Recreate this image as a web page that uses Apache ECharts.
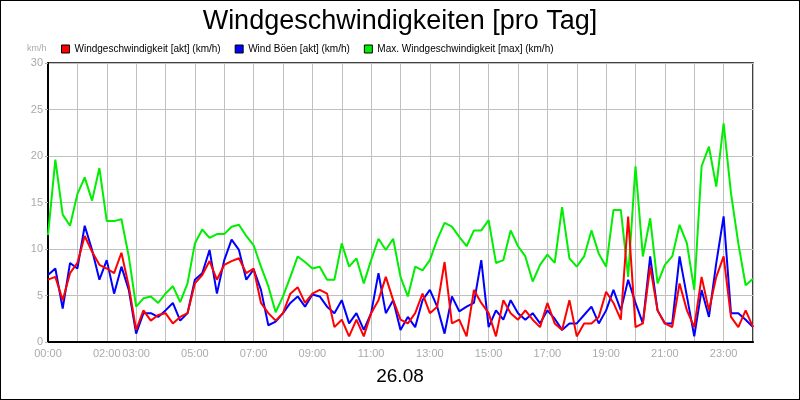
<!DOCTYPE html>
<html>
<head>
<meta charset="utf-8">
<script src="https://cdn.jsdelivr.net/npm/echarts@6/dist/echarts.min.js"></script>
<style>
	html,body{margin:0;padding:0;background:#fff}
	#main{width:798px;height:398px;border:1px solid #000}
</style>
</head>
<body>
<div id="main"></div>
<script>
// 15-minute steps, 00:00 .. 24:00
var stepHours = 0.25;
var shownHours = [0,2,3,5,7,9,11,13,15,17,19,21,23];
var windAkt = [
	6.7,7.0,4.5,7.4, 8.5,11.4,9.7,8.3, 7.9,7.4,9.6,6.0, 1.3,3.4,2.3,2.9,
	3.1,2.0,2.7,3.1, 6.3,7.2,8.7,6.7, 8.3,8.7,9.0,7.4, 7.9,4.2,3.1,2.3,
	3.1,5.2,5.9,4.2, 5.2,5.6,5.2,1.6, 2.4,0.6,2.4,0.6, 3.1,4.5,7.0,4.5,
	2.4,2.0,3.1,5.2, 3.1,3.8,8.6,2.0, 2.4,0.6,5.6,4.2, 3.1,0.6,4.5,3.1,
	2.4,3.4,2.4,1.6, 4.2,2.0,1.3,4.5, 0.6,2.0,2.0,2.7, 5.4,4.2,2.4,13.5,
	1.6,2.0,8.1,3.4, 2.0,1.6,6.3,3.4, 1.6,7.0,3.4,7.0, 9.2,2.7,1.6,3.4, 1.6
];
var boeenAkt = [
	7.2,7.9,3.6,8.5, 7.9,12.5,9.9,6.7, 8.8,5.2,8.1,5.6, 0.9,3.1,3.1,2.7,
	3.4,4.2,2.3,3.1, 6.7,7.4,9.9,5.2, 8.8,11.0,9.9,6.7, 7.8,5.6,1.8,2.2,
	3.1,4.2,4.9,3.8, 5.1,4.9,3.8,3.1, 4.5,2.0,3.1,1.3, 3.1,7.4,3.1,4.5,
	1.3,2.7,1.6,4.5, 5.6,3.8,0.9,4.9, 3.3,3.8,4.2,8.8, 1.6,3.4,2.4,4.5,
	3.1,2.4,3.1,2.0, 3.4,2.5,1.3,2.0, 2.0,2.9,3.8,2.0, 3.4,5.6,3.4,6.7,
	4.2,2.0,9.2,3.4, 2.0,2.0,9.2,4.9, 0.6,5.6,2.7,8.5, 13.5,3.1,3.1,2.4, 1.6
];
var windMax = [
	11.5,19.6,13.7,12.5, 15.9,17.7,15.2,18.7, 13.0,13.0,13.2,9.2, 3.8,4.7,4.9,4.2,
	5.2,6.0,4.3,6.3, 10.6,12.1,11.2,11.6, 11.6,12.4,12.6,11.4, 10.4,8.1,6.0,3.2,
	4.9,7.0,9.2,8.6, 7.9,8.1,6.7,6.7, 10.6,8.1,9.0,6.3, 8.8,11.1,9.9,11.1,
	7.0,4.9,8.1,7.7, 8.8,11.0,12.8,12.4, 11.3,10.3,12.0,12.0, 13.1,8.5,8.8,12.0,
	10.3,9.2,6.5,8.3, 9.4,8.5,14.5,9.0, 8.1,9.2,12.0,9.5, 8.1,14.2,14.2,7.0,
	18.9,9.2,13.3,6.3, 8.3,9.2,12.6,10.6, 5.6,18.9,21.0,16.7, 23.5,16.0,10.6,6.1, 6.8
];

function pairs(arr){
	return arr.map(function(v,i){ return [i*stepHours, v]; });
}
function pad(n){ return (n<10?'0':'')+n; }

var myChart = echarts.init(document.getElementById('main'));
var option = {
	backgroundColor: '#fff',
	animation: false,
	textStyle: {fontFamily: 'Arial, Liberation Sans, sans-serif'},
	title: {
		text: 'Windgeschwindigkeiten [pro Tag]',
		left: 'center', top: 2,
		textStyle: {fontSize: 27, fontWeight: 'normal', color: '#000'}
	},
	legend: {
		top: 38, left: 55,
		itemWidth: 8, itemHeight: 8, itemGap: 14,
		icon: 'rect',
		itemStyle: {borderColor: '#000', borderWidth: 1},
		textStyle: {fontSize: 10, color: '#000'},
		data: ['Windgeschwindigkeit [akt] (km/h)','Wind Böen [akt] (km/h)','Max. Windgeschwindigkeit [max] (km/h)']
	},
	graphic: [
		{type:'text', left:'center', top:366, style:{text:'26.08', fontSize:19, fill:'#000', font:'19px Arial, Liberation Sans, sans-serif'}},
		{type:'text', left:26, top:43, style:{text:'km/h', fill:'#aaa', font:'9px Arial, Liberation Sans, sans-serif'}}
	],
	grid: {left: 47, right: 46, top: 62, bottom: 57, show: true, borderColor: '#000', borderWidth: 1.5},
	xAxis: {
		type: 'value', min: 0, max: 24, interval: 1,
		axisLine: {show: true, lineStyle: {color: '#000', width: 2}},
		axisTick: {show: false},
		splitLine: {show: true, lineStyle: {color: '#c0c0c0'}},
		axisLabel: {
			color: '#aaa', fontSize: 11, margin: 6,
			formatter: function(v){ return shownHours.indexOf(v) >= 0 ? pad(v)+':00' : ''; }
		}
	},
	yAxis: {
		type: 'value', min: 0, max: 30, interval: 5,
		axisLine: {show: true, lineStyle: {color: '#000', width: 2}},
		axisTick: {show: true, length: 3, lineStyle: {color: '#aaa'}},
		splitLine: {show: true, lineStyle: {color: '#c0c0c0'}},
		axisLabel: {color: '#aaa', fontSize: 11, margin: 5}
	},
	series: [
		{name:'Max. Windgeschwindigkeit [max] (km/h)', type:'line', showSymbol:false, data: pairs(windMax), lineStyle:{color:'#00ee00', width:2}, itemStyle:{color:'#00ee00'}, z:1},
		{name:'Wind Böen [akt] (km/h)', type:'line', showSymbol:false, data: pairs(boeenAkt), lineStyle:{color:'#0000ff', width:2}, itemStyle:{color:'#0000ff'}, z:2},
		{name:'Windgeschwindigkeit [akt] (km/h)', type:'line', showSymbol:false, data: pairs(windAkt), lineStyle:{color:'#ff0000', width:2}, itemStyle:{color:'#ff0000'}, z:3}
	]
};
myChart.setOption(option);
</script>
</body>
</html>
